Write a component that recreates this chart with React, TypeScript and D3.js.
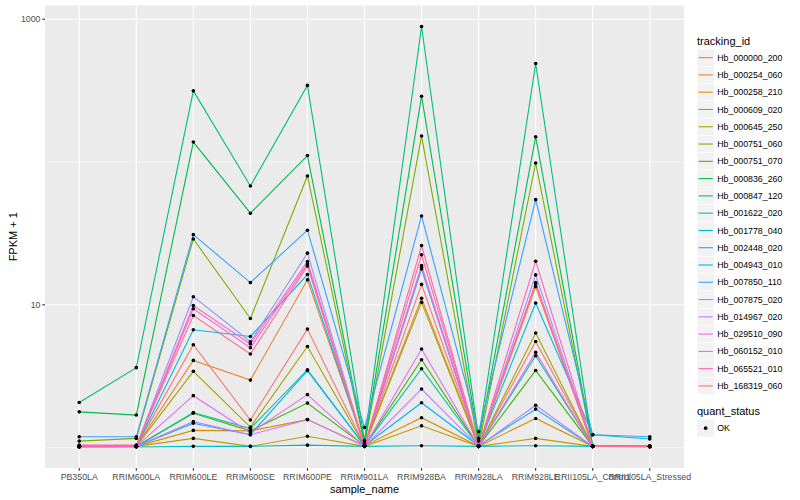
import React from "react";
import * as d3 from "d3";

const categories = [
  "PB350LA", "RRIM600LA", "RRIM600LE", "RRIM600SE", "RRIM600PE", "RRIM901LA",
  "RRIM928BA", "RRIM928LA", "RRIM928LE", "RRII105LA_Control", "RRII105LA_Stressed",
];

const trackingIds = [
  "Hb_000000_200", "Hb_000254_060", "Hb_000258_210", "Hb_000609_020", "Hb_000645_250",
  "Hb_000751_060", "Hb_000751_070", "Hb_000836_260", "Hb_000847_120", "Hb_001622_020",
  "Hb_001778_040", "Hb_002448_020", "Hb_004943_010", "Hb_007850_110", "Hb_007875_020",
  "Hb_014967_020", "Hb_029510_090", "Hb_060152_010", "Hb_065521_010", "Hb_168319_060",
];

const palette = [
  "#F8766D", "#EA8331", "#D89000", "#C09B00", "#A3A500", "#7CAE00", "#39B600", "#00BB4E",
  "#00BF7D", "#00C1A3", "#00BFC4", "#00BAE0", "#00B0F6", "#35A2FF", "#9590FF", "#C77CFF",
  "#E76BF3", "#FA62DB", "#FF62BC", "#FF6C91",
];

// FPKM + 1 per tracking_id, in category order
const fpkmPlus1: number[][] = [
  [1.02, 1.02, 5.25, 1.56, 6.76, 1.03, 13.9, 1.02, 5.54, 1.02, 1.02],
  [1.02, 1.02, 4.08, 2.97, 14.96, 1.03, 11.1, 1.02, 13.4, 1.02, 1.02],
  [1.02, 1.02, 1.32, 1.31, 1.57, 1.03, 1.62, 1.02, 1.6, 1.02, 1.02],
  [1.02, 1.02, 1.16, 1.02, 1.2, 1.02, 1.42, 1.02, 1.16, 1.02, 1.02],
  [1.02, 1.02, 3.42, 1.39, 5.11, 1.03, 10.4, 1.02, 6.34, 1.02, 1.02],
  [1.11, 1.16, 28.9, 8.02, 79.8, 1.05, 152, 1.02, 98.4, 1.02, 1.02],
  [1.02, 1.02, 1.74, 1.31, 2.05, 1.03, 4.12, 1.02, 3.47, 1.02, 1.02],
  [1.78, 1.69, 138, 43.8, 111, 1.08, 289, 1.11, 150, 1.02, 1.02],
  [2.07, 3.63, 315, 67.9, 344, 1.12, 889, 1.16, 490, 1.02, 1.02],
  [1.02, 1.02, 1.76, 1.36, 3.51, 1.03, 3.57, 1.02, 4.4, 1.02, 1.02],
  [1.01, 1.01, 1.02, 1.02, 1.04, 1.02, 1.03, 1.02, 1.03, 1.02, 1.02],
  [1.02, 1.02, 6.69, 6.0, 16.3, 1.03, 17.8, 1.03, 10.3, 1.23, 1.15],
  [1.02, 1.02, 1.48, 1.23, 3.46, 1.03, 2.06, 1.03, 1.86, 1.02, 1.02],
  [1.19, 1.19, 31.0, 14.3, 33.3, 1.38, 41.9, 1.29, 54.5, 1.23, 1.19],
  [1.01, 1.02, 11.4, 5.51, 23.0, 1.02, 18.8, 1.02, 16.2, 1.02, 1.01],
  [1.02, 1.02, 1.52, 1.23, 1.57, 1.02, 2.57, 1.02, 1.98, 1.02, 1.02],
  [1.02, 1.02, 2.31, 1.27, 2.35, 1.02, 4.9, 1.02, 4.64, 1.02, 1.02],
  [1.02, 1.02, 9.38, 5.0, 19.3, 1.02, 18.3, 1.02, 14.3, 1.02, 1.02],
  [1.02, 1.02, 9.89, 5.31, 20.1, 1.02, 26.0, 1.02, 20.2, 1.03, 1.02],
  [1.04, 1.04, 8.42, 4.52, 18.7, 1.03, 22.4, 1.03, 14.0, 1.02, 1.02],
];

const yMajorTicks = [10, 1000];
const yMinorTicks = [1, 100];
const quantStatus = ["OK"];

const W = 800;
const H = 500;
const panel = { left: 45, right: 684, top: 5.5, bottom: 468 };
const FONT = "'Liberation Sans', Arial, Helvetica, sans-serif";

export default function App() {
  const all = fpkmPlus1.flat();
  const [mn, mx] = d3.extent(all) as [number, number];
  const lmn = Math.log10(mn);
  const lmx = Math.log10(mx);
  const pad = (lmx - lmn) * 0.05;
  const y = d3
    .scaleLog()
    .domain([Math.pow(10, lmn - pad), Math.pow(10, lmx + pad)])
    .range([panel.bottom, panel.top]);
  const x = d3
    .scalePoint<string>()
    .domain(categories)
    .range([panel.left, panel.right])
    .padding(0.6);

  const line = d3
    .line<number>()
    .x((_, i) => x(categories[i]) as number)
    .y((d) => y(d));

  const legX = 697;
  const keyH = 17.28;
  const key0 = 49;

  return (
    <svg
      width={W}
      height={H}
      style={{ position: "absolute", left: 0, top: 0, background: "#fff" }}
      fontFamily={FONT}
    >
      <rect x={0} y={0} width={W} height={H} fill="#fff" />
      <rect
        x={panel.left}
        y={panel.top}
        width={panel.right - panel.left}
        height={panel.bottom - panel.top}
        fill="#EBEBEB"
      />
      {yMinorTicks.map((t) => (
        <line key={"mn" + t} x1={panel.left} x2={panel.right} y1={y(t)} y2={y(t)} stroke="#fff" strokeWidth={0.55} />
      ))}
      {yMajorTicks.map((t) => (
        <line key={"mj" + t} x1={panel.left} x2={panel.right} y1={y(t)} y2={y(t)} stroke="#fff" strokeWidth={1.1} />
      ))}
      {categories.map((c) => (
        <line key={"vx" + c} x1={x(c)} x2={x(c)} y1={panel.top} y2={panel.bottom} stroke="#fff" strokeWidth={1.1} />
      ))}

      {fpkmPlus1.map((vals, i) => (
        <path key={"l" + i} d={line(vals) || ""} fill="none" stroke={palette[i]} strokeWidth={1.1} />
      ))}
      {fpkmPlus1.map((vals, i) =>
        vals.map((v, j) => (
          <circle key={"p" + i + "_" + j} cx={x(categories[j])} cy={y(v)} r={1.8} fill="#000" />
        ))
      )}

      {/* y axis */}
      {yMajorTicks.map((t) => (
        <g key={"yt" + t}>
          <line x1={panel.left - 2.75} x2={panel.left} y1={y(t)} y2={y(t)} stroke="#333" strokeWidth={1.1} />
          <text x={panel.left - 4.5} y={y(t)} dy="0.35em" textAnchor="end" fontSize={8.8} fill="#4D4D4D">
            {String(t)}
          </text>
        </g>
      ))}
      {/* x axis */}
      {categories.map((c) => (
        <g key={"xt" + c}>
          <line x1={x(c)} x2={x(c)} y1={panel.bottom} y2={panel.bottom + 2.75} stroke="#333" strokeWidth={1.1} />
          <text x={x(c)} y={panel.bottom + 12.3} textAnchor="middle" fontSize={8.8} fill="#4D4D4D">
            {c}
          </text>
        </g>
      ))}
      <text x={(panel.left + panel.right) / 2} y={492.5} textAnchor="middle" fontSize={11} fill="#000">
        sample_name
      </text>
      <text
        transform={`translate(16.5, ${(panel.top + panel.bottom) / 2}) rotate(-90)`}
        textAnchor="middle"
        fontSize={11}
        fill="#000"
      >
        FPKM + 1
      </text>

      {/* legend: tracking_id */}
      <text x={legX} y={44.5} fontSize={11} fill="#000">
        tracking_id
      </text>
      {trackingIds.map((id, i) => {
        const ky = key0 + i * keyH;
        return (
          <g key={"lg" + id}>
            <rect x={legX} y={ky} width={keyH} height={keyH} fill="#F2F2F2" stroke="#fff" strokeWidth={0.6} />
            <line x1={legX + 1.5} x2={legX + keyH - 1.5} y1={ky + keyH / 2} y2={ky + keyH / 2} stroke={palette[i]} strokeWidth={1.1} />
            <text x={legX + keyH + 3} y={ky + keyH / 2} dy="0.35em" fontSize={8.8} fill="#000">
              {id}
            </text>
          </g>
        );
      })}

      {/* legend: quant_status */}
      <text x={legX} y={415} fontSize={11} fill="#000">
        quant_status
      </text>
      {quantStatus.map((q, i) => {
        const ky = 419.5 + i * keyH;
        return (
          <g key={"qs" + q}>
            <rect x={legX} y={ky} width={keyH} height={keyH} fill="#F2F2F2" />
            <circle cx={legX + keyH / 2} cy={ky + keyH / 2} r={1.8} fill="#000" />
            <text x={legX + keyH + 3} y={ky + keyH / 2} dy="0.35em" fontSize={8.8} fill="#000">
              {q}
            </text>
          </g>
        );
      })}
    </svg>
  );
}
